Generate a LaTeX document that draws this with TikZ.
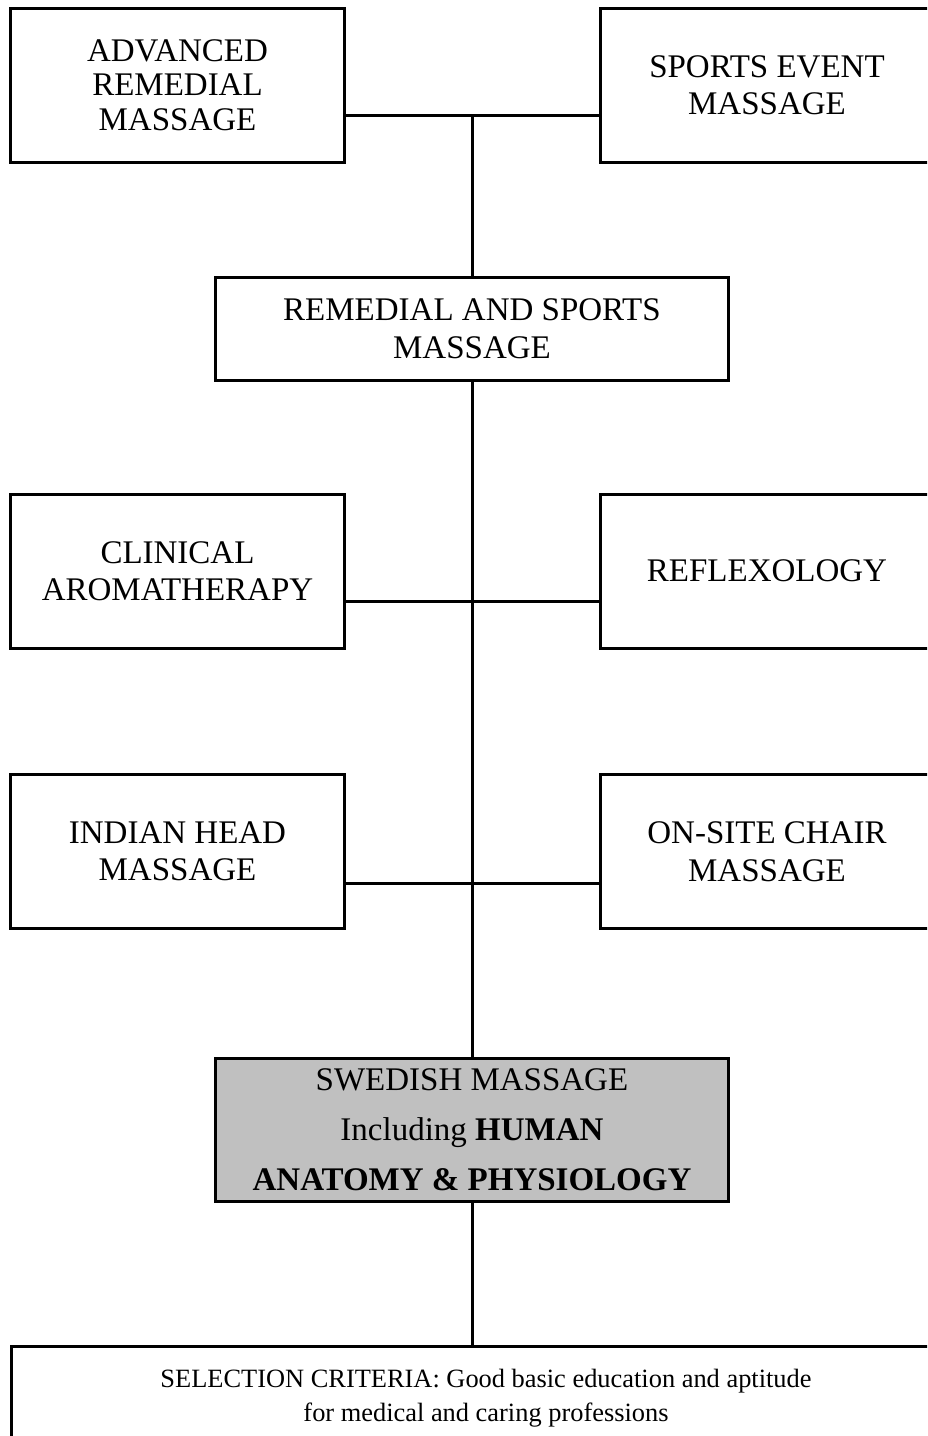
\documentclass[tikz,border=0pt]{standalone}
\usepackage{fontspec}
\setmainfont{Liberation Serif}
\definecolor{boxgray}{HTML}{C0C0C0}
\begin{document}
\begin{tikzpicture}[x=1pt,y=-1pt,
  box/.style={draw=black,line width=3pt,rectangle,inner sep=0pt,align=center,
    font=\fontsize{33}{37.5}\selectfont},
  sidebox/.style={box,minimum width=334pt,minimum height=154pt},
  conn/.style={draw=black,line width=3pt}]
\useasboundingbox (0,0) rectangle (927,1436);
\clip (0,0) rectangle (927,1436);
\fill[white] (0,0) rectangle (927,1436);
% top row
\node[sidebox,font=\fontsize{33}{34.5}\selectfont] (adv) at (177.5,85) {ADVANCED\\REMEDIAL\\MASSAGE};
\node[sidebox] (sport) at (767,85) {SPORTS EVENT\\MASSAGE};
\node[box,minimum width=513pt,minimum height=103pt,font=\fontsize{33}{38.5}\selectfont] (rem) at (472,328.5) {REMEDIAL AND SPORTS\\MASSAGE};
% middle rows
\node[sidebox] (clin) at (177.5,571) {CLINICAL\\AROMATHERAPY};
\node[sidebox] (refl) at (767,571) {REFLEXOLOGY};
\node[sidebox] (ind) at (177.5,851.5) {INDIAN HEAD\\MASSAGE};
\node[sidebox] (onsite) at (767,851.5) {ON-SITE CHAIR\\MASSAGE};
% swedish
\node[box,fill=boxgray,minimum width=513pt,minimum height=143pt,
  font=\fontsize{33}{50}\selectfont] (swe) at (472,1129.5)
  {SWEDISH MASSAGE\\Including \textbf{HUMAN}\\\textbf{ANATOMY \& PHYSIOLOGY}};
% selection criteria
\node[box,minimum width=950pt,minimum height=104pt,
  font=\fontsize{26.4}{34}\selectfont] (sel) at (486,1398)
  {SELECTION CRITERIA: Good basic education and aptitude\\for medical and caring professions};
% junction coordinates
\coordinate (j1) at (472,115);
\coordinate (j2) at (472,601);
\coordinate (j3) at (472,883);
% connectors
\draw[conn] (adv.east |- j1) -- (sport.west |- j1);
\draw[conn] (j1) -- (rem.north -| j1);
\draw[conn] (rem.south -| j1) -- (swe.north -| j1);
\draw[conn] (clin.east |- j2) -- (refl.west |- j2);
\draw[conn] (ind.east |- j3) -- (onsite.west |- j3);
\draw[conn] (swe.south -| j1) -- (sel.north -| j1);
\end{tikzpicture}
\end{document}
